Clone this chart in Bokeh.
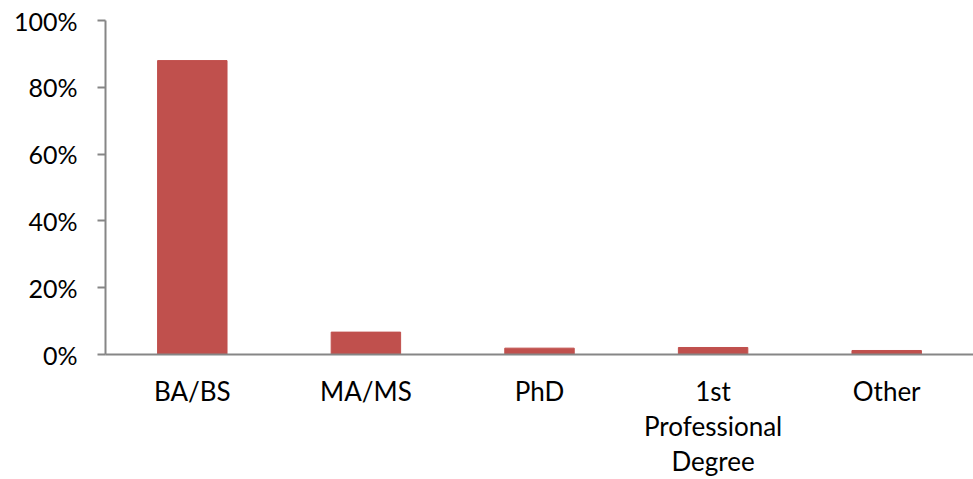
from bokeh.plotting import figure
from bokeh.models import Range1d, FixedTicker, NumeralTickFormatter, ColumnDataSource
from bokeh.embed import file_html
from bokeh.resources import INLINE

categories = ["BA/BS", "MA/MS", "PhD", "1st\nProfessional\nDegree", "Other"]
shares = [0.88, 0.067, 0.019, 0.021, 0.012]
y_ticks = [0, 0.2, 0.4, 0.6, 0.8, 1.0]

positions = list(range(len(categories)))
src = ColumnDataSource(dict(x=positions, top=shares))

FONT = "Lato"

p = figure(width=973, height=479, output_backend="svg", toolbar_location=None,
           x_range=Range1d(-0.5, 4.5), y_range=Range1d(0, 1),
           min_border_left=105, min_border_right=0, min_border_top=20, min_border_bottom=124)
p.outline_line_color = None
p.xgrid.visible = False
p.ygrid.visible = False

p.vbar(x="x", top="top", width=0.4, bottom=0, source=src,
       fill_color="#C0504D", line_color="#C0504D")

ya = p.yaxis[0]
ya.ticker = FixedTicker(ticks=y_ticks)
ya.formatter = NumeralTickFormatter(format="0%")
ya.axis_line_color = "#868686"
ya.axis_line_width = 2
ya.major_tick_line_color = "#868686"
ya.major_tick_line_width = 2
ya.major_tick_out = 8
ya.major_tick_in = 0
ya.minor_tick_line_color = None
ya.major_label_standoff = 20
ya.major_label_text_font = FONT
ya.major_label_text_font_size = "25px"
ya.major_label_text_color = "black"

xa = p.xaxis[0]
xa.ticker = FixedTicker(ticks=positions)
xa.major_label_overrides = {i: c for i, c in zip(positions, categories)}
xa.axis_line_color = "#868686"
xa.axis_line_width = 2
xa.major_tick_line_color = None
xa.minor_tick_line_color = None
xa.major_tick_out = 0
xa.major_tick_in = 0
xa.major_label_standoff = 20
xa.major_label_text_font = FONT
xa.major_label_text_font_size = "26px"
xa.major_label_text_color = "black"
xa.major_label_text_line_height = 1.1

open("out.html", "w").write(file_html(p, INLINE))
